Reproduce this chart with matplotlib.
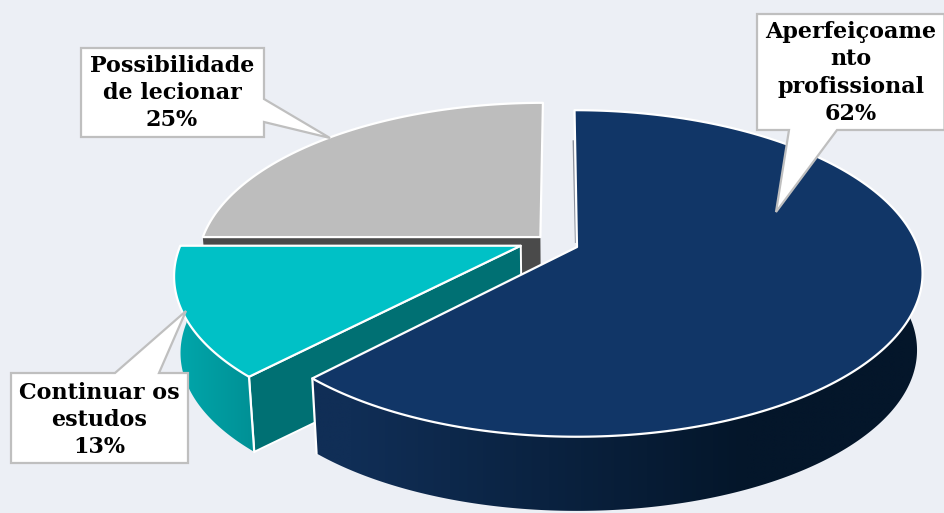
import numpy as np
import matplotlib
matplotlib.use("Agg")
import matplotlib.pyplot as plt
from matplotlib.patches import Polygon
from matplotlib.colors import to_rgb

# ---- data ----
categories = ["Aperfeiçoame\nnto\nprofissional", "Continuar os\nestudos", "Possibilidade\nde lecionar"]
values = [62, 13, 25]
top_colors = ["#113667", "#00C1C6", "#BDBDBD"]
wall_colors = ["#0B1F3A", "#007073", "#4A4A4A"]
rim_left = ["#102E56", "#00A8AC", "#9A9A9A"]
rim_right = ["#04162A", "#009095", "#808080"]

BG = "#ECEFF5"
W, H = 944, 513

# ---- projection of the pie plane (perspective) ----
CX, CY = 577.0, 247.0
A, B, K = 341.0, 159.0, 0.162
SCALE_LOW_X, SCALE_LOW_Y, DEPTH = 0.984, 0.985, 77.0


def project(x, y, low=False):
    x, y = np.asarray(x, float), np.asarray(y, float)
    d = 1 + K * y
    px, py = A * x / d - 2.5 * np.clip(y, 0, None), -B * y / d
    if low:
        return CX + px * SCALE_LOW_X, CY + py * SCALE_LOW_Y + DEPTH
    return CX + px, CY + py


def arc(t0, t1, off, low=False, n=240):
    th = np.radians(np.linspace(t0, t1, n))
    return project(np.sin(th) + off[0], np.cos(th) + off[1], low)


def at(t, off, low=False):
    r = np.radians(t)
    return project(np.sin(r) + off[0], np.cos(r) + off[1], low)


fig = plt.figure(figsize=(W / 100, H / 100), dpi=100, facecolor=BG)
ax = fig.add_axes([0, 0, 1, 1])
ax.axis("off")

# angles come from the values, clockwise from 12 o'clock
edges = np.concatenate([[0], np.cumsum(values)]) / sum(values) * 360
offsets = [(0.0, 0.0), (-0.165, 0.008), (-0.108, 0.063)]
draw_order = [2, 1, 0]


def poly(xs, ys, fc, ec="none", lw=0, z=1):
    p = Polygon(np.column_stack([xs, ys]), closed=True, fc=fc, ec=ec, lw=lw,
                joinstyle="round", zorder=z)
    ax.add_patch(p)
    return p


for z, i in enumerate(draw_order):
    t0, t1 = edges[i], edges[i + 1]
    off = offsets[i]
    base = z * 10 + 1
    apex = project(off[0], off[1])
    apex_low = project(off[0], off[1], True)
    s0, s0l = at(t0, off), at(t0, off, True)
    s1, s1l = at(t1, off), at(t1, off, True)

    # inner walls
    if i == 0:
        poly([apex[0], s1[0], s1l[0], apex_low[0]], [apex[1], s1[1], s1l[1], apex_low[1]],
             wall_colors[i], z=base)
        f = 0.78
        ax.plot([apex[0] - 1.6 + (s0[0] - apex[0]) * f, apex[0] - 1.2],
                [apex[1] + (s0[1] - apex[1]) * f, apex[1] - 4],
                color="#8A909C", lw=1.3, zorder=base, solid_capstyle="butt")
    elif i == 1:
        poly([apex[0], s0[0], s0l[0], apex_low[0]], [apex[1], s0[1], s0l[1], apex_low[1]],
             wall_colors[i], ec="white", lw=1.4, z=base)
    else:
        poly([s0[0], apex[0], apex_low[0], s0l[0]], [s0[1], apex[1], apex_low[1], s0l[1]],
             wall_colors[i], z=base)

    # curved rim, shaded left to right
    if i != 2:
        start = max(t0, 80.0)
        ux, uy = arc(start, t1, off)
        lx, ly = arc(start, t1, off, True)
        clip = poly(np.r_[ux, lx[::-1]], np.r_[uy, ly[::-1]], "none", z=base + 1)
        mn, mx = min(ux.min(), lx.min()), max(ux.max(), lx.max())
        grid = np.linspace(0, 1, 400)
        ramp = np.clip(grid * 1.55 - 0.1, 0, 1) if i == 0 else grid
        cl, cr = np.array(to_rgb(rim_left[i])), np.array(to_rgb(rim_right[i]))
        img = (cl[None, :] + (cr - cl)[None, :] * ramp[:, None])[None, :, :]
        ax.imshow(img, extent=(mn, mx, ly.max() + 2, uy.min() - 2), aspect="auto",
                  zorder=base + 1, clip_path=clip, interpolation="bilinear")

    # top face
    tx_, ty_ = arc(t0, t1, off)
    poly(np.r_[apex[0], tx_], np.r_[apex[1], ty_], top_colors[i], ec="white", lw=1.6, z=base + 2)

# white edge of the rim at the cut of each wedge
for i, zz in ((0, 22), (1, 13)):
    off = offsets[i]
    cut = edges[i + 1] if i == 0 else edges[i]
    a, b = at(cut, off), at(cut, off, True)
    ax.plot([a[0], b[0]], [a[1], b[1]], color="white", lw=1.6, zorder=zz, solid_capstyle="round")

ax.set_xlim(0, W)
ax.set_ylim(H, 0)

# ---- call-outs ----
GREY = "#BFBFBF"
callouts = [
    (0, (757, 14, 944.5, 130), [(789, 130), (776, 212), (837, 130)], (851, 73)),
    (1, (11, 373, 188, 463), [(115, 373), (186, 311), (159, 373)], (99, 420)),
    (2, (81, 48, 264, 137), [(264, 99), (330, 138), (264, 122)], (172, 93)),
]
for idx, (x0, y0, x1, y1), ptr, (tx, ty) in callouts:
    p0, tip, p1 = ptr
    if idx == 0:
        pts = [(x0, y0), (x1, y0), (x1, y1), p1, tip, p0, (x0, y1)]
    elif idx == 1:
        pts = [(x0, y0), p0, tip, p1, (x1, y0), (x1, y1), (x0, y1)]
    else:
        pts = [(x0, y0), (x1, y0), p0, tip, p1, (x1, y1), (x0, y1)]
    ax.add_patch(Polygon(pts, closed=True, fc="white", ec=GREY, lw=1.6, zorder=40,
                         joinstyle="miter"))
    ax.text(tx, ty, f"{categories[idx]}\n{values[idx]}%", ha="center", va="center",
            family="DejaVu Serif", weight="bold", fontsize=16, color="black",
            linespacing=1.32, zorder=41)

fig.savefig("out.png", dpi=100, facecolor=BG)
